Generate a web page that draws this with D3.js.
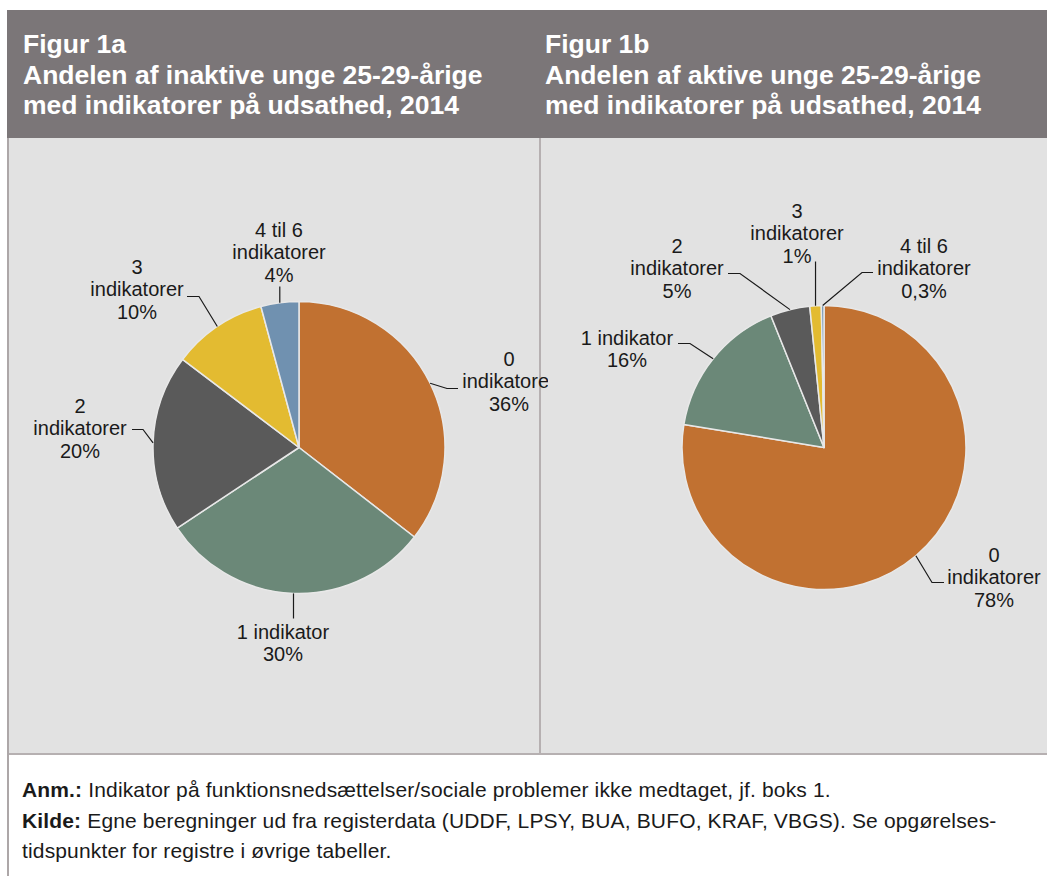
<!DOCTYPE html>
<html><head><meta charset="utf-8">
<script src="https://cdn.jsdelivr.net/npm/d3@7"></script>
<style>
html,body{margin:0;padding:0;background:#fff;}
svg{display:block;font-family:"Liberation Sans",Arial,Helvetica,sans-serif;}
</style></head>
<body>
<svg id="chart" width="1047" height="876"></svg>
<script>
// ---- data ----
const categories = ["0 indikatorer","1 indikator","2 indikatorer","3 indikatorer","4 til 6 indikatorer"];
const inaktiveValues = [35.5, 30.2, 19.6, 10.5, 4.2];
const aktiveValues   = [77.6, 16.3, 4.5, 1.3, 0.3];
const inaktiveLabels = [["0","indikatorer","36%"],["1 indikator","30%"],["2","indikatorer","20%"],["3","indikatorer","10%"],["4 til 6","indikatorer","4%"]];
const aktiveLabels   = [["0","indikatorer","78%"],["1 indikator","16%"],["2","indikatorer","5%"],["3","indikatorer","1%"],["4 til 6","indikatorer","0,3%"]];
const colors = ["#c17131","#6b8878","#5a5a5a","#e3bb31","#7091b0"];
const titles = [["Figur 1a","Andelen af inaktive unge 25-29-årige","med indikatorer på udsathed, 2014"],
                ["Figur 1b","Andelen af aktive unge 25-29-årige","med indikatorer på udsathed, 2014"]];
const notes = [["Anm.:"," Indikator på funktionsnedsættelser/sociale problemer ikke medtaget, jf. boks 1."],
               ["Kilde:"," Egne beregninger ud fra registerdata (UDDF, LPSY, BUA, BUFO, KRAF, VBGS). Se opgørelses-"],
               ["","tidspunkter for registre i øvrige tabeller."]];

// ---- layout (label placement, relative to pie centre) ----
const leftLayout = [
  {lx:210, ly:-89, elbow:[148,-59], end:[159,-59]},
  {lx:-16, ly:184, elbow:null, end:null, vEnd:171},
  {lx:-219, ly:-42, elbow:[-156,-18], end:[-167,-18]},
  {lx:-162, ly:-181, elbow:[-100,-151], end:[-112,-151]},
  {lx:-20, ly:-218, elbow:null, end:null, vEnd:-161}
];
const rightLayout = [
  {lx:170, ly:107, elbow:[108,135], end:[120,135]},
  {lx:-197, ly:-110, elbow:[-134,-104], end:[-146,-104]},
  {lx:-147, ly:-202, elbow:[-84,-174], end:[-96,-174]},
  {lx:-27, ly:-237, elbow:null, end:null, vEnd:-186},
  {lx:100, ly:-202, elbow:[38,-175], end:[49,-175]}
];

const svg = d3.select("#chart");
const W = 1047, H = 876;
const x0 = 7, headTop = 10, headBot = 138, panelBot = 754, divX = 540;

// header
svg.append("rect").attr("x",x0).attr("y",headTop).attr("width",W-x0).attr("height",headBot-headTop).attr("fill","#7b7678");
// panels
svg.append("rect").attr("x",x0).attr("y",headBot).attr("width",W-x0).attr("height",panelBot-headBot).attr("fill","#e2e2e2");
svg.append("line").attr("x1",divX).attr("x2",divX).attr("y1",headBot).attr("y2",panelBot).attr("stroke","#b6b0b1").attr("stroke-width",2);
svg.append("line").attr("x1",x0).attr("x2",W).attr("y1",panelBot).attr("y2",panelBot).attr("stroke","#b6b0b1").attr("stroke-width",2);
svg.append("line").attr("x1",x0+1).attr("x2",x0+1).attr("y1",headBot).attr("y2",H).attr("stroke","#ada7a8").attr("stroke-width",2);

// titles
titles.forEach((t,i)=>{
  const tx = i===0 ? 23 : 545;
  const g = svg.append("text").attr("fill","#fff").attr("font-weight","bold").attr("font-size",26.5);
  t.forEach((line,j)=>{
    g.append("tspan").attr("x",tx).attr("y",53 + j*30.5).text(line);
  });
});

// clip for left chart
svg.append("defs").append("clipPath").attr("id","clipL").append("rect")
  .attr("x",x0).attr("y",headBot).attr("width",548-x0).attr("height",panelBot-headBot);

function drawPie(parent, values, labels, layout, cx, cy, r){
  const g = parent.append("g").attr("transform",`translate(${cx},${cy})`);
  const pie = d3.pie().sort(null).value(d=>d);
  const arcs = pie(values);
  const arc = d3.arc().innerRadius(0).outerRadius(r);
  g.selectAll("path.slice").data(arcs).enter().append("path")
    .attr("class","slice").attr("d",arc)
    .attr("fill",(d,i)=>colors[i]).attr("stroke","#e8e8e8").attr("stroke-width",1.5).attr("stroke-linejoin","round");
  arcs.forEach((d,i)=>{
    const L = layout[i];
    const a = (d.startAngle + d.endAngle)/2;
    const sx = r*Math.sin(a), sy = -r*Math.cos(a);
    const pts = L.elbow ? [[sx,sy],L.elbow,L.end] : [[sx,sy],[sx,L.vEnd]];
    g.append("path").attr("d",d3.line()(pts)).attr("fill","none").attr("stroke","#1a1a1a").attr("stroke-width",1.2);
    const t = g.append("text").attr("text-anchor","middle").attr("font-size",20).attr("fill","#1a1a1a");
    labels[i].forEach((line,j)=>{
      t.append("tspan").attr("x",L.lx).attr("y",L.ly + j*22.7 + 7).text(line);
    });
  });
  return g;
}
const gl = svg.append("g").attr("clip-path","url(#clipL)");
drawPie(gl, inaktiveValues, inaktiveLabels, leftLayout, 299, 447.5, 146);
drawPie(svg, aktiveValues, aktiveLabels, rightLayout, 824, 447.5, 142);

// notes
notes.forEach((n,i)=>{
  const t = svg.append("text").attr("x",22).attr("y",797 + i*30.5).attr("font-size",21)
    .attr("letter-spacing",0.15).attr("fill","#1a1a1a");
  if (n[0]) t.append("tspan").attr("font-weight","bold").text(n[0]);
  t.append("tspan").text(n[1]);
});
</script>
</body></html>
